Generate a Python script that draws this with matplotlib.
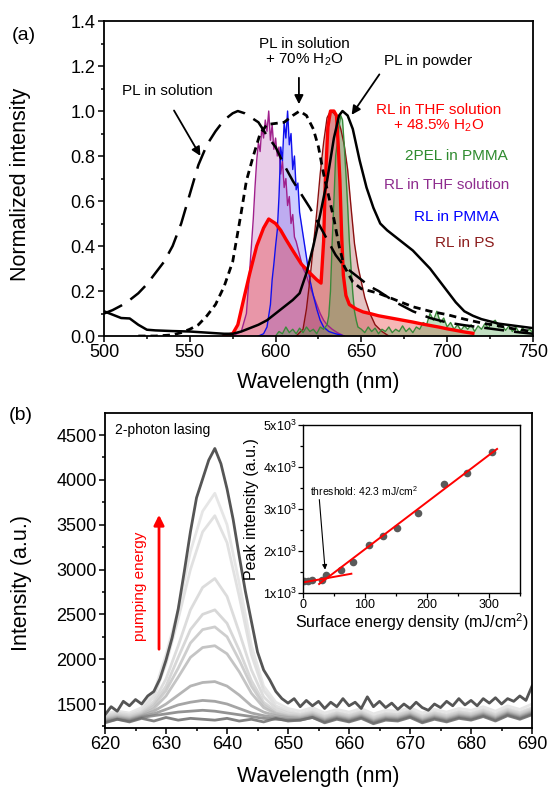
import numpy as np
import matplotlib.pyplot as plt
from matplotlib.ticker import MultipleLocator, FixedLocator

plt.rcParams['font.family'] = ['Liberation Sans', 'DejaVu Sans']
plt.rcParams['mathtext.fontset'] = 'custom'
plt.rcParams['mathtext.rm'] = 'Liberation Sans'
plt.rcParams['mathtext.it'] = 'Liberation Sans:italic'
plt.rcParams['mathtext.default'] = 'regular'

# Panel (a) ------------------------------
pl_sol_wl = [500, 505, 510, 515, 520, 525, 530, 535, 540, 545, 550, 555, 560, 565, 570,
             575, 578, 582, 586, 590, 595, 600, 605, 610, 615, 620, 625, 630, 635, 640,
             645, 650, 655, 660, 670, 680, 690, 700, 710, 720, 730, 740, 750]
pl_sol_y = [0.10, 0.115, 0.135, 0.16, 0.19, 0.23, 0.28, 0.33, 0.40, 0.50, 0.63, 0.76, 0.85,
            0.91, 0.96, 0.99, 1.0, 0.99, 0.97, 0.95, 0.89, 0.84, 0.76, 0.69, 0.63, 0.57,
            0.50, 0.43, 0.36, 0.31, 0.28, 0.25, 0.22, 0.20, 0.15, 0.11, 0.08, 0.06, 0.048,
            0.038, 0.028, 0.018, 0.01]

pl_h2o_wl = [520, 530, 540, 545, 550, 555, 560, 565, 570, 575, 580, 583, 587, 591, 595, 600,
             605, 610, 614, 618, 622, 625, 628, 631, 634, 637, 640, 645, 650, 655, 660, 670,
             680, 690, 700, 710, 720, 730, 740, 750]
pl_h2o_y = [0.0, 0.0, 0.005, 0.015, 0.03, 0.05, 0.09, 0.14, 0.22, 0.33, 0.55, 0.69, 0.80,
            0.90, 0.94, 0.945, 0.95, 0.98, 1.0, 0.98, 0.92, 0.84, 0.72, 0.62, 0.52, 0.40,
            0.31, 0.24, 0.21, 0.20, 0.19, 0.16, 0.13, 0.11, 0.095, 0.075, 0.058, 0.045,
            0.03, 0.02]

pl_pow_wl = [500, 505, 510, 515, 520, 525, 530, 540, 550, 560, 570, 575, 580, 585, 590, 595,
             600, 605, 610, 614, 618, 622, 626, 630, 634, 637, 639, 642, 645, 649, 653, 657,
             661, 665, 670, 675, 680, 685, 690, 695, 700, 705, 710, 715, 720, 725, 730, 735,
             740, 745, 750]
pl_pow_y = [0.11, 0.095, 0.08, 0.078, 0.05, 0.028, 0.025, 0.022, 0.02, 0.015, 0.01, 0.01,
            0.02, 0.035, 0.05, 0.07, 0.10, 0.13, 0.16, 0.19, 0.28, 0.40, 0.54, 0.69, 0.88,
            0.98, 1.0, 0.98, 0.92, 0.78, 0.66, 0.57, 0.50, 0.47, 0.44, 0.41, 0.38, 0.34,
            0.30, 0.25, 0.20, 0.15, 0.11, 0.09, 0.075, 0.065, 0.055, 0.05, 0.045, 0.04, 0.035]

rl_thf_wl = [575, 580, 583, 585, 587, 588, 589, 590, 591, 592, 593, 594, 595, 596, 597, 598,
             599, 600, 601, 602, 603, 604, 605, 606, 607, 608, 609, 610, 611, 612, 614, 616,
             618, 620, 622, 624, 626, 628, 630, 633, 636, 640]
rl_thf_y = [0.0, 0.02, 0.1, 0.3, 0.52, 0.66, 0.78, 0.86, 0.82, 0.93, 0.88, 0.96, 0.91, 1.0,
            0.87, 0.94, 0.83, 0.88, 0.80, 0.84, 0.72, 0.78, 0.66, 0.70, 0.58, 0.62, 0.50,
            0.54, 0.44, 0.42, 0.36, 0.30, 0.27, 0.22, 0.18, 0.14, 0.10, 0.07, 0.05, 0.03,
            0.015, 0.0]

rl_pmma_wl = [590, 593, 595, 597, 598, 599, 600, 601, 602, 603, 604, 605, 606, 607, 608, 609,
              610, 611, 612, 613, 614, 615, 616, 618, 620, 622, 624, 626, 628, 631, 635, 640]
rl_pmma_y = [0.0, 0.01, 0.04, 0.14, 0.25, 0.32, 0.40, 0.47, 0.62, 0.84, 0.78, 0.95, 0.88,
             1.0, 0.85, 0.90, 0.74, 0.80, 0.65, 0.68, 0.55, 0.50, 0.45, 0.35, 0.25, 0.18,
             0.12, 0.07, 0.04, 0.02, 0.01, 0.0]

rl_h2o_wl = [570, 575, 578, 581, 585, 589, 593, 596, 600, 603, 606, 610, 615, 620, 624,
             626.5, 628, 629, 630.5, 632, 634, 635.5, 636.5, 637.5, 638.5, 639.5, 641, 643,
             647, 651, 655, 660, 665, 670, 675, 680, 685, 690, 695, 700, 705, 710, 715]
rl_h2o_y = [0.0, 0.01, 0.05, 0.15, 0.28, 0.40, 0.48, 0.52, 0.50, 0.47, 0.43, 0.38, 0.32,
            0.28, 0.25, 0.235, 0.42, 0.69, 0.93, 1.0, 1.0, 0.98, 0.85, 0.69, 0.45, 0.27,
            0.18, 0.14, 0.12, 0.107, 0.10, 0.09, 0.083, 0.076, 0.069, 0.062, 0.054, 0.047,
            0.04, 0.032, 0.025, 0.018, 0.012]

rl_ps_wl = [612, 616, 618, 620, 622, 624, 626, 628, 630, 632, 634, 636, 638, 640, 642, 644,
            646, 648, 650, 652, 655, 658, 662, 666]
rl_ps_y = [0.0, 0.03, 0.12, 0.25, 0.40, 0.55, 0.72, 0.86, 0.97, 1.0, 0.99, 0.97, 0.92, 0.85,
           0.74, 0.57, 0.41, 0.31, 0.24, 0.17, 0.10, 0.05, 0.02, 0.0]

pel_wl = [600, 602, 604, 606, 608, 610, 612, 614, 616, 618, 620, 622, 624, 626, 628, 630,
          631, 632, 633, 634, 635, 636, 637, 638, 639, 640, 641, 642, 643, 644, 645, 646,
          647, 648, 650, 652, 654, 656, 658, 660, 662, 664, 666, 668, 670, 672, 674, 676,
          678, 680, 682, 684, 686, 688, 690, 692, 694, 696, 698, 700, 702, 704, 706, 708,
          710, 712, 714, 716, 718, 720, 722, 724, 726, 728, 730, 732, 734, 736, 738, 740,
          742, 744, 746, 748, 750]
pel_y = [0.0, 0.02, 0.01, 0.04, 0.015, 0.03, 0.01, 0.035, 0.015, 0.04, 0.02, 0.03, 0.01,
         0.04, 0.03, 0.05, 0.09, 0.2, 0.42, 0.6, 0.8, 0.86, 0.93, 0.98, 0.96, 0.85, 0.72,
         0.58, 0.42, 0.3, 0.19, 0.11, 0.07, 0.04, 0.03, 0.015, 0.04, 0.02, 0.035, 0.01,
         0.03, 0.02, 0.04, 0.015, 0.03, 0.02, 0.045, 0.02, 0.035, 0.015, 0.04, 0.03, 0.06,
         0.05, 0.1, 0.07, 0.11, 0.06, 0.08, 0.04, 0.06, 0.03, 0.05, 0.025, 0.045, 0.03,
         0.05, 0.02, 0.045, 0.03, 0.055, 0.035, 0.06, 0.07, 0.04, 0.05, 0.025, 0.045, 0.02,
         0.04, 0.015, 0.035, 0.02, 0.03, 0.015]

# Panel (b) ------------------------------
wl_top = list(range(620, 691))
top_spec = [1380, 1470, 1420, 1530, 1480, 1550, 1500, 1590, 1640, 1780, 1990, 2240, 2560,
            2980, 3420, 3800, 4010, 4220, 4350, 4180, 3900, 3560, 3150, 2760, 2420, 2080,
            1880, 1770, 1640, 1560, 1510, 1560, 1470, 1540, 1480, 1530, 1450, 1520, 1470,
            1560, 1480, 1520, 1450, 1580, 1470, 1530, 1460, 1510, 1440, 1500, 1450, 1520,
            1460, 1430, 1500, 1460, 1530, 1480, 1560, 1490, 1540, 1480, 1560, 1510, 1570,
            1500, 1560, 1530, 1590, 1540, 1700]

wl_low = list(range(620, 691, 2))
low_specs = [
    [1390, 1420, 1400, 1460, 1620, 2050, 2550, 3200, 3650, 3850, 3500, 2850, 2150, 1700,
     1520, 1450, 1420, 1460, 1400, 1440, 1410, 1450, 1390, 1430, 1420, 1460, 1400, 1440,
     1410, 1450, 1430, 1470, 1420, 1480, 1440, 1500],
    [1370, 1400, 1380, 1430, 1580, 1950, 2450, 3000, 3420, 3600, 3300, 2700, 2050, 1650,
     1480, 1420, 1390, 1430, 1370, 1410, 1380, 1420, 1360, 1400, 1390, 1430, 1370, 1410,
     1380, 1420, 1400, 1440, 1390, 1450, 1410, 1460],
    [1360, 1390, 1370, 1410, 1530, 1780, 2150, 2550, 2800, 2900, 2700, 2300, 1880, 1580,
     1450, 1400, 1380, 1410, 1360, 1400, 1370, 1410, 1350, 1390, 1380, 1420, 1360, 1400,
     1370, 1410, 1390, 1430, 1380, 1440, 1400, 1450],
    [1350, 1380, 1360, 1400, 1500, 1700, 2020, 2330, 2500, 2550, 2400, 2100, 1760, 1520,
     1420, 1380, 1370, 1400, 1350, 1390, 1360, 1400, 1340, 1380, 1370, 1410, 1350, 1390,
     1360, 1400, 1380, 1420, 1370, 1430, 1390, 1440],
    [1340, 1370, 1350, 1390, 1480, 1650, 1900, 2180, 2330, 2360, 2250, 1990, 1700, 1490,
     1400, 1370, 1360, 1390, 1340, 1380, 1350, 1390, 1330, 1370, 1360, 1400, 1340, 1380,
     1350, 1390, 1370, 1410, 1360, 1420, 1380, 1430],
    [1330, 1360, 1340, 1380, 1450, 1590, 1800, 2020, 2130, 2150, 2060, 1860, 1620, 1460,
     1390, 1360, 1350, 1380, 1330, 1370, 1340, 1380, 1320, 1360, 1350, 1390, 1330, 1370,
     1340, 1380, 1360, 1400, 1350, 1410, 1370, 1420],
    [1320, 1350, 1330, 1370, 1420, 1500, 1600, 1700, 1740, 1750, 1700, 1600, 1480, 1410,
     1370, 1350, 1340, 1370, 1320, 1360, 1330, 1370, 1310, 1350, 1340, 1380, 1320, 1360,
     1330, 1370, 1350, 1390, 1340, 1400, 1360, 1410],
    [1310, 1340, 1320, 1360, 1390, 1440, 1490, 1520, 1540, 1530, 1500, 1450, 1400, 1370,
     1350, 1330, 1330, 1360, 1310, 1350, 1320, 1360, 1300, 1340, 1330, 1370, 1310, 1350,
     1320, 1360, 1340, 1380, 1330, 1390, 1350, 1400],
    [1300, 1330, 1310, 1350, 1370, 1390, 1410, 1420, 1430, 1420, 1400, 1380, 1360, 1340,
     1330, 1320, 1320, 1350, 1300, 1340, 1310, 1350, 1290, 1330, 1320, 1360, 1300, 1340,
     1310, 1350, 1330, 1370, 1320, 1380, 1340, 1390],
    [1290, 1330, 1300, 1340, 1310, 1350, 1320, 1340, 1330, 1320, 1340, 1310, 1330, 1300,
     1340, 1310, 1320, 1350, 1290, 1330, 1300, 1340, 1280, 1320, 1310, 1350, 1290, 1330,
     1300, 1340, 1320, 1360, 1310, 1370, 1330, 1380],
]
low_colors = ['#e2e2e2', '#dcdcdc', '#d6d6d6', '#d0d0d0', '#c6c6c6', '#bababa',
              '#a8a8a8', '#959595', '#808080', '#6c6c6c']

energy = [2, 8, 15, 30, 37, 61, 81, 106, 129, 152, 186, 228, 265, 305]
peak_int = [1290, 1280, 1310, 1320, 1430, 1540, 1750, 2150, 2360, 2550, 2900, 3600, 3850, 4350]
fit_hi_x = [26, 313]
fit_hi_y = [1214, 4430]
fit_lo_x = [0, 78]
fit_lo_y = [1252, 1459]


def style_axes(ax, lw=1.3):
    for s in ax.spines.values():
        s.set_linewidth(lw)
    ax.tick_params(which='both', direction='out', top=False, right=False, width=1.1)
    ax.tick_params(which='major', length=4.5, pad=1.5)
    ax.tick_params(which='minor', length=2.5)


def panel_a(ax):
    fills = [(rl_thf_wl, rl_thf_y, '#c070c0', 0.35),
             (rl_pmma_wl, rl_pmma_y, '#7070ff', 0.35),
             (rl_h2o_wl, rl_h2o_y, '#e83030', 0.35),
             (rl_ps_wl, rl_ps_y, '#a83a3a', 0.30),
             (pel_wl, pel_y, '#50a850', 0.35)]
    for x, y, c, a in fills:
        ax.fill_between(x, y, 0, color=c, alpha=a, lw=0)

    ax.plot(rl_thf_wl, rl_thf_y, color='#a0208c', lw=1.0)
    ax.plot(rl_pmma_wl, rl_pmma_y, color='#1010ee', lw=1.0)
    ax.plot(rl_ps_wl, rl_ps_y, color='#8b1010', lw=1.0)
    ax.plot(pel_wl, pel_y, color='#3a8a3a', lw=1.0)
    ax.plot(rl_h2o_wl, rl_h2o_y, color='#ff0000', lw=2.4)
    ax.plot(pl_sol_wl, pl_sol_y, color='k', lw=1.8, dashes=(8, 4))
    ax.plot(pl_h2o_wl, pl_h2o_y, color='k', lw=2.0, dashes=(2.6, 1.8))
    ax.plot(pl_pow_wl, pl_pow_y, color='k', lw=1.8)

    ax.set_xlim(500, 750)
    ax.set_ylim(0, 1.4)
    ax.xaxis.set_major_locator(MultipleLocator(50))
    ax.xaxis.set_minor_locator(MultipleLocator(25))
    ax.yaxis.set_major_locator(MultipleLocator(0.2))
    ax.yaxis.set_minor_locator(MultipleLocator(0.1))
    ax.yaxis.set_major_formatter(lambda v, p: f'{v:.1f}')
    ax.tick_params(labelsize=13)
    style_axes(ax)
    ax.set_xlabel('Wavelength (nm)', fontsize=15.5)
    ax.set_ylabel('Normalized intensity', fontsize=15.5)
    ax.xaxis.set_label_coords(0.5, -0.115)
    ax.yaxis.set_label_coords(-0.17, 0.48)

    arrow = dict(arrowstyle='-|>', color='k', lw=1.3, mutation_scale=13)
    ax.text(536.7, 1.089, 'PL in solution', fontsize=11, ha='center', va='center')
    ax.annotate('', xy=(557, 0.79), xytext=(540, 1.013), arrowprops=arrow)
    ax.text(617, 1.258, 'PL in solution\n+ 70% H$_2$O', fontsize=11, ha='center',
            va='center', linespacing=1.05)
    ax.annotate('', xy=(613.6, 1.018), xytext=(613.6, 1.16), arrowprops=arrow)
    ax.text(688.8, 1.222, 'PL in powder', fontsize=11, ha='center', va='center')
    ax.annotate('', xy=(643.4, 0.973), xytext=(661.4, 1.173), arrowprops=arrow)

    ax.text(695, 0.969, 'RL in THF solution\n+ 48.5% H$_2$O', fontsize=11, color='#ff0000',
            ha='center', va='center', linespacing=1.05)
    ax.text(705.4, 0.80, '2PEL in PMMA', fontsize=11, color='#2e8b2e', ha='center', va='center')
    ax.text(699.6, 0.671, 'RL in THF solution', fontsize=11, color='#8e2c8e', ha='center',
            va='center')
    ax.text(705.6, 0.529, 'RL in PMMA', fontsize=11, color='#0000ff', ha='center', va='center')
    ax.text(710.4, 0.413, 'RL in PS', fontsize=11, color='#8b1a1a', ha='center', va='center')


def panel_b(ax):
    for spec, c in zip(low_specs, low_colors):
        ax.plot(wl_low, spec, color=c, lw=2.0, alpha=0.85)
    ax.plot(wl_top, top_spec, color='#555555', lw=2.0)

    ax.set_xlim(620, 690)
    ax.set_ylim(1232, 4745)
    ax.xaxis.set_major_locator(MultipleLocator(10))
    ax.xaxis.set_minor_locator(MultipleLocator(5))
    ax.yaxis.set_major_locator(MultipleLocator(500))
    ax.yaxis.set_minor_locator(MultipleLocator(250))
    ax.tick_params(labelsize=13)
    style_axes(ax)
    ax.set_xlabel('Wavelength (nm)', fontsize=15.5)
    ax.set_ylabel('Intensity (a.u.)', fontsize=15.5)
    ax.xaxis.set_label_coords(0.5, -0.12)
    ax.yaxis.set_label_coords(-0.17, 0.46)

    ax.text(621.6, 4560, '2-photon lasing', fontsize=10, ha='left', va='center')
    ax.annotate('', xy=(628.85, 3641), xytext=(628.85, 2080),
                arrowprops=dict(arrowstyle='-|>', color='#ff0000', lw=2.0, mutation_scale=15))
    ax.text(625.7, 2816, 'pumping energy', fontsize=11, color='#ff0000', rotation=90,
            ha='center', va='center')


def inset(ax):
    ax.set_facecolor('white')
    ax.plot(energy, peak_int, 'o', color='#5a5a5a', ms=5.5, mec='none')
    ax.plot(fit_hi_x, fit_hi_y, color='#ff0000', lw=1.4)
    ax.plot(fit_lo_x, fit_lo_y, color='#ff0000', lw=1.4)
    ax.set_xlim(0, 350)
    ax.set_ylim(1000, 5000)
    ax.xaxis.set_major_locator(MultipleLocator(100))
    ax.xaxis.set_minor_locator(MultipleLocator(50))
    ax.yaxis.set_major_locator(FixedLocator([1000, 2000, 3000, 4000, 5000]))
    ax.yaxis.set_minor_locator(MultipleLocator(500))
    ax.set_yticklabels([f'{i}x10$^3$' for i in range(1, 6)])
    style_axes(ax, lw=1.0)
    ax.tick_params(which='major', length=3.5, pad=1, labelsize=9, width=0.9)
    ax.tick_params(which='minor', length=2, width=0.9)
    ax.set_xlabel('Surface energy density (mJ/cm$^2$)', fontsize=11.5)
    ax.set_ylabel('Peak intensity (a.u.)', fontsize=11.5)
    ax.xaxis.set_label_coords(0.5, -0.11)
    ax.yaxis.set_label_coords(-0.205, 0.5)
    ax.text(10.6, 3432, 'threshold: 42.3 mJ/cm$^2$', fontsize=7.5, ha='left', va='center')
    ax.annotate('', xy=(36, 1490), xytext=(26, 3290),
                arrowprops=dict(arrowstyle='-|>', color='k', lw=0.8, mutation_scale=7))


def main():
    fig = plt.figure(figsize=(5.49, 7.91), dpi=100)
    ax_a = fig.add_axes([0.1894, 0.5752, 0.7814, 0.3982])
    ax_b = fig.add_axes([0.1913, 0.0796, 0.7778, 0.3982])
    ax_in = fig.add_axes([0.5519, 0.2503, 0.3953, 0.2124])
    panel_a(ax_a)
    panel_b(ax_b)
    inset(ax_in)
    fig.text(24 / 549, 1 - 35 / 791, '(a)', fontsize=14, ha='center', va='center')
    fig.text(21 / 549, 1 - 415 / 791, '(b)', fontsize=14, ha='center', va='center')
    fig.savefig('out.png', dpi=100)


if __name__ == "__main__":
    main()
